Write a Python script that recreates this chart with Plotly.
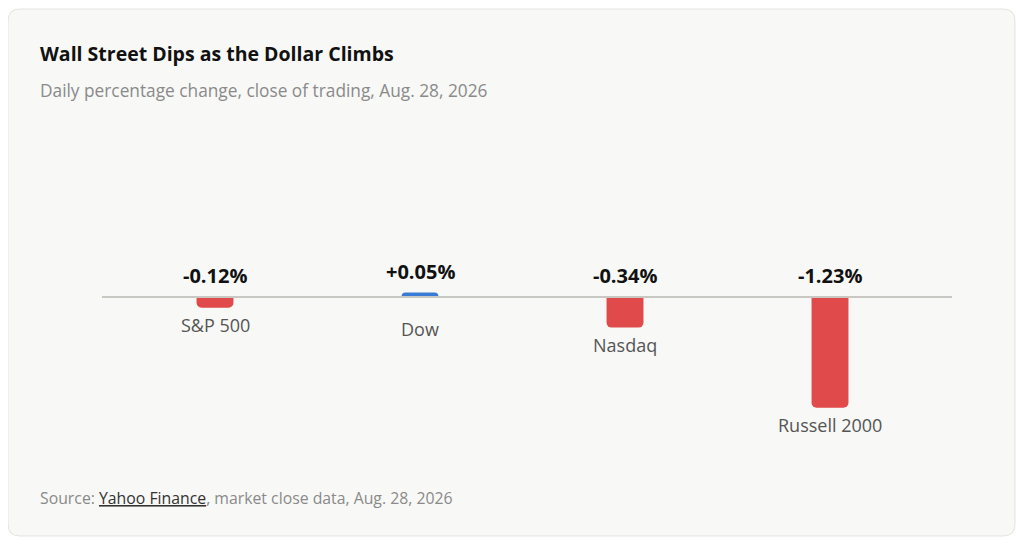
import plotly.graph_objects as go

# page is drawn with an 8px body margin, so the figure is 8px smaller and shifted
OFF = 8
W, H = 1024 - OFF, 540 - OFF

indexes = ["S&P 500", "Dow", "Nasdaq", "Russell 2000"]
changes = [-0.12, 0.05, -0.34, -1.23]
change_labels = ["-0.12%", "+0.05%", "-0.34%", "-1.23%"]

RED = "#e04a4a"
BLUE = "#3a7bd5"
FONT = "Open Sans, Noto Sans, sans-serif"

colors = [BLUE if v > 0 else RED for v in changes]

fig = go.Figure()
fig.add_trace(go.Bar(
    x=indexes,
    y=changes,
    marker=dict(color=colors, cornerradius=5, line=dict(width=0)),
    hoverinfo="skip",
))


def px_x(p):
    return (p - OFF) / W


def px_y(p):
    return 1 - (p - OFF) / H


# card background with rounded corners (paper coords)
x0, x1, y0, y1, r = px_x(8), px_x(1015), px_y(536), px_y(9), 12
rx, ry = r / W, r / H
card = (
    f"M {x0+rx},{y1} L {x1-rx},{y1} Q {x1},{y1} {x1},{y1-ry} "
    f"L {x1},{y0+ry} Q {x1},{y0} {x1-rx},{y0} "
    f"L {x0+rx},{y0} Q {x0},{y0} {x0},{y0+ry} "
    f"L {x0},{y1-ry} Q {x0},{y1} {x0+rx},{y1} Z"
)
fig.add_shape(type="path", path=card, xref="paper", yref="paper",
              fillcolor="#f8f8f6", line=dict(color="#e3e3e0", width=1), layer="below")

# zero line
fig.add_shape(type="line", xref="paper", yref="y", x0=px_x(102), x1=px_x(952), y0=0, y1=0,
              line=dict(color="#c9c7c1", width=2), layer="above")

# value labels and category labels
for name, v, lab in zip(indexes, changes, change_labels):
    fig.add_annotation(x=name, y=max(v, 0), text=f"<b>{lab}</b>", showarrow=False,
                       yanchor="bottom", yshift=6, xref="x", yref="y",
                       font=dict(family=FONT, size=20, color="#111111"))
    fig.add_annotation(x=name, y=min(v, 0), text=name, showarrow=False,
                       yanchor="top", yshift=-3 if v < 0 else -18, xref="x", yref="y",
                       font=dict(family=FONT, size=18, color="#555555"))

fig.add_annotation(x=px_x(38), y=px_y(54), xref="paper", yref="paper", xanchor="left", yanchor="middle",
                   text="<b>Wall Street Dips as the Dollar Climbs</b>", showarrow=False,
                   font=dict(family=FONT, size=19.5, color="#111111"))
fig.add_annotation(x=px_x(38), y=px_y(90), xref="paper", yref="paper", xanchor="left", yanchor="middle",
                   text="Daily percentage change, close of trading, Aug. 28, 2026", showarrow=False,
                   font=dict(family=FONT, size=17.3, color="#8a8a8a"))
fig.add_annotation(x=px_x(38), y=px_y(498), xref="paper", yref="paper", xanchor="left", yanchor="middle",
                   text="Source: <span style='color:#333333'><u>Yahoo Finance</u></span>, market close data, Aug. 28, 2026",
                   showarrow=False, font=dict(family=FONT, size=15.8, color="#8a8a8a"))

# 90 px per percentage point, zero at y=297px
fig.update_layout(
    width=W, height=H,
    margin=dict(l=0, r=0, t=0, b=0),
    paper_bgcolor="#ffffff",
    plot_bgcolor="rgba(0,0,0,0)",
    showlegend=False,
    bargap=0.82,
    xaxis=dict(domain=[px_x(112.5), px_x(932.5)], showticklabels=False, showgrid=False,
               zeroline=False, showline=False, fixedrange=True),
    yaxis=dict(domain=[px_y(450), px_y(145)], range=[-153 / 90, 152 / 90], showticklabels=False,
               showgrid=False, zeroline=False, showline=False, fixedrange=True),
)

fig.write_html("out.html")
